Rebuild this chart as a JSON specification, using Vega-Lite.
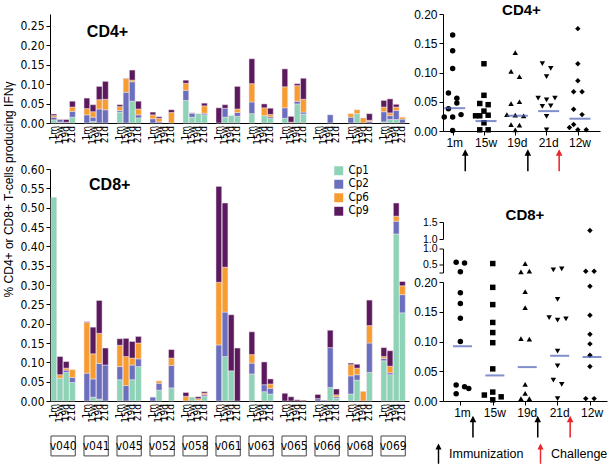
{
  "$schema": "https://vega.github.io/schema/vega-lite/v6.json",
  "padding": {"left": 2, "top": 3, "right": 0, "bottom": 0},
  "background": "white",
  "datasets": {
    "cd4": [
      {"s": "v040", "t": "1m", "Cp1": 0.008, "Cp2": 0.007, "Cp6": 0.004, "Cp9": 0.004},
      {"s": "v040", "t": "15w", "Cp1": 0.002, "Cp2": 0.007, "Cp6": 0, "Cp9": 0.001},
      {"s": "v040", "t": "19d", "Cp1": 0, "Cp2": 0.002, "Cp6": 0, "Cp9": 0.007},
      {"s": "v040", "t": "21d", "Cp1": 0.015, "Cp2": 0.015, "Cp6": 0.011, "Cp9": 0.015},
      {"s": "v041", "t": "1m", "Cp1": 0, "Cp2": 0.021, "Cp6": 0.016, "Cp9": 0.027},
      {"s": "v041", "t": "15w", "Cp1": 0.004, "Cp2": 0.011, "Cp6": 0.014, "Cp9": 0.018},
      {"s": "v041", "t": "19d", "Cp1": 0, "Cp2": 0.036, "Cp6": 0.024, "Cp9": 0.034},
      {"s": "v041", "t": "21d", "Cp1": 0, "Cp2": 0.034, "Cp6": 0.027, "Cp9": 0.046},
      {"s": "v045", "t": "1m", "Cp1": 0.028, "Cp2": 0.004, "Cp6": 0.010, "Cp9": 0.005},
      {"s": "v045", "t": "15w", "Cp1": 0, "Cp2": 0.079, "Cp6": 0.035, "Cp9": 0.001},
      {"s": "v045", "t": "19d", "Cp1": 0.056, "Cp2": 0.050, "Cp6": 0.004, "Cp9": 0.026},
      {"s": "v045", "t": "21d", "Cp1": 0.013, "Cp2": 0.008, "Cp6": 0.015, "Cp9": 0.020},
      {"s": "v052", "t": "1m", "Cp1": 0, "Cp2": 0.011, "Cp6": 0.010, "Cp9": 0.007},
      {"s": "v052", "t": "15w", "Cp1": 0, "Cp2": 0.003, "Cp6": 0.009, "Cp9": 0.004},
      {"s": "v052", "t": "19d", "Cp1": 0, "Cp2": 0, "Cp6": 0, "Cp9": 0},
      {"s": "v052", "t": "21d", "Cp1": 0, "Cp2": 0, "Cp6": 0.027, "Cp9": 0.007},
      {"s": "v058", "t": "1m", "Cp1": 0.058, "Cp2": 0.026, "Cp6": 0.018, "Cp9": 0.008},
      {"s": "v058", "t": "15w", "Cp1": 0.015, "Cp2": 0.010, "Cp6": 0, "Cp9": 0.001},
      {"s": "v058", "t": "19d", "Cp1": 0.024, "Cp2": 0, "Cp6": 0, "Cp9": 0},
      {"s": "v058", "t": "21d", "Cp1": 0.021, "Cp2": 0.004, "Cp6": 0.019, "Cp9": 0.007},
      {"s": "v061", "t": "1m", "Cp1": 0, "Cp2": 0, "Cp6": 0, "Cp9": 0.039},
      {"s": "v061", "t": "15w", "Cp1": 0.015, "Cp2": 0.023, "Cp6": 0, "Cp9": 0.009},
      {"s": "v061", "t": "19d", "Cp1": 0.019, "Cp2": 0, "Cp6": 0, "Cp9": 0},
      {"s": "v061", "t": "21d", "Cp1": 0.017, "Cp2": 0.010, "Cp6": 0.009, "Cp9": 0.058},
      {"s": "v063", "t": "1m", "Cp1": 0.024, "Cp2": 0.030, "Cp6": 0.047, "Cp9": 0.064},
      {"s": "v063", "t": "15w", "Cp1": 0, "Cp2": 0, "Cp6": 0, "Cp9": 0},
      {"s": "v063", "t": "19d", "Cp1": 0.019, "Cp2": 0, "Cp6": 0.020, "Cp9": 0.010},
      {"s": "v063", "t": "21d", "Cp1": 0.012, "Cp2": 0.004, "Cp6": 0.006, "Cp9": 0.016},
      {"s": "v065", "t": "1m", "Cp1": 0.012, "Cp2": 0.027, "Cp6": 0.054, "Cp9": 0.046},
      {"s": "v065", "t": "15w", "Cp1": 0, "Cp2": 0, "Cp6": 0.002, "Cp9": 0.015},
      {"s": "v065", "t": "19d", "Cp1": 0.049, "Cp2": 0.007, "Cp6": 0.040, "Cp9": 0.005},
      {"s": "v065", "t": "21d", "Cp1": 0.023, "Cp2": 0.005, "Cp6": 0.033, "Cp9": 0.054},
      {"s": "v066", "t": "1m", "Cp1": 0, "Cp2": 0, "Cp6": 0, "Cp9": 0},
      {"s": "v066", "t": "15w", "Cp1": 0, "Cp2": 0, "Cp6": 0, "Cp9": 0},
      {"s": "v066", "t": "19d", "Cp1": 0, "Cp2": 0.021, "Cp6": 0, "Cp9": 0},
      {"s": "v066", "t": "21d", "Cp1": 0, "Cp2": 0, "Cp6": 0, "Cp9": 0},
      {"s": "v068", "t": "1m", "Cp1": 0, "Cp2": 0.015, "Cp6": 0.009, "Cp9": 0},
      {"s": "v068", "t": "15w", "Cp1": 0.024, "Cp2": 0, "Cp6": 0.010, "Cp9": 0},
      {"s": "v068", "t": "19d", "Cp1": 0, "Cp2": 0, "Cp6": 0.013, "Cp9": 0},
      {"s": "v068", "t": "21d", "Cp1": 0, "Cp2": 0.004, "Cp6": 0.003, "Cp9": 0.017},
      {"s": "v069", "t": "1m", "Cp1": 0.003, "Cp2": 0.026, "Cp6": 0.012, "Cp9": 0.017},
      {"s": "v069", "t": "15w", "Cp1": 0.009, "Cp2": 0.010, "Cp6": 0.007, "Cp9": 0.036},
      {"s": "v069", "t": "19d", "Cp1": 0.009, "Cp2": 0.023, "Cp6": 0.009, "Cp9": 0.007},
      {"s": "v069", "t": "21d", "Cp1": 0, "Cp2": 0.010, "Cp6": 0.005, "Cp9": 0}
    ],
    "cd8": [
      {"s": "v040", "t": "1m", "Cp1": 0.527, "Cp2": 0, "Cp6": 0, "Cp9": 0},
      {"s": "v040", "t": "15w", "Cp1": 0.059, "Cp2": 0, "Cp6": 0.009, "Cp9": 0.047},
      {"s": "v040", "t": "19d", "Cp1": 0.074, "Cp2": 0.006, "Cp6": 0.005, "Cp9": 0.017},
      {"s": "v040", "t": "21d", "Cp1": 0.048, "Cp2": 0.013, "Cp6": 0.020, "Cp9": 0},
      {"s": "v041", "t": "1m", "Cp1": 0, "Cp2": 0.072, "Cp6": 0.131, "Cp9": 0.002},
      {"s": "v041", "t": "15w", "Cp1": 0.010, "Cp2": 0.047, "Cp6": 0.065, "Cp9": 0.069},
      {"s": "v041", "t": "19d", "Cp1": 0.005, "Cp2": 0.092, "Cp6": 0.078, "Cp9": 0.085},
      {"s": "v041", "t": "21d", "Cp1": 0, "Cp2": 0.093, "Cp6": 0, "Cp9": 0.044},
      {"s": "v045", "t": "1m", "Cp1": 0.055, "Cp2": 0.034, "Cp6": 0.055, "Cp9": 0.017},
      {"s": "v045", "t": "15w", "Cp1": 0, "Cp2": 0.040, "Cp6": 0.075, "Cp9": 0.047},
      {"s": "v045", "t": "19d", "Cp1": 0.055, "Cp2": 0.038, "Cp6": 0.018, "Cp9": 0.043},
      {"s": "v045", "t": "21d", "Cp1": 0.089, "Cp2": 0.020, "Cp6": 0.041, "Cp9": 0.017},
      {"s": "v052", "t": "1m", "Cp1": 0, "Cp2": 0.010, "Cp6": 0, "Cp9": 0},
      {"s": "v052", "t": "15w", "Cp1": 0.028, "Cp2": 0.018, "Cp6": 0.006, "Cp9": 0},
      {"s": "v052", "t": "19d", "Cp1": 0, "Cp2": 0, "Cp6": 0, "Cp9": 0},
      {"s": "v052", "t": "21d", "Cp1": 0.034, "Cp2": 0.058, "Cp6": 0.019, "Cp9": 0.022},
      {"s": "v058", "t": "1m", "Cp1": 0, "Cp2": 0, "Cp6": 0.012, "Cp9": 0.010},
      {"s": "v058", "t": "15w", "Cp1": 0.010, "Cp2": 0, "Cp6": 0, "Cp9": 0},
      {"s": "v058", "t": "19d", "Cp1": 0.002, "Cp2": 0, "Cp6": 0.004, "Cp9": 0.005},
      {"s": "v058", "t": "21d", "Cp1": 0.012, "Cp2": 0.004, "Cp6": 0.004, "Cp9": 0.004},
      {"s": "v061", "t": "1m", "Cp1": 0, "Cp2": 0.145, "Cp6": 0.162, "Cp9": 0.248},
      {"s": "v061", "t": "15w", "Cp1": 0.115, "Cp2": 0.115, "Cp6": 0.116, "Cp9": 0.166},
      {"s": "v061", "t": "19d", "Cp1": 0.078, "Cp2": 0, "Cp6": 0, "Cp9": 0.145},
      {"s": "v061", "t": "21d", "Cp1": 0, "Cp2": 0, "Cp6": 0, "Cp9": 0.137},
      {"s": "v063", "t": "1m", "Cp1": 0.070, "Cp2": 0.028, "Cp6": 0.022, "Cp9": 0.059},
      {"s": "v063", "t": "15w", "Cp1": 0, "Cp2": 0, "Cp6": 0, "Cp9": 0},
      {"s": "v063", "t": "19d", "Cp1": 0.024, "Cp2": 0.018, "Cp6": 0, "Cp9": 0.059},
      {"s": "v063", "t": "21d", "Cp1": 0.018, "Cp2": 0.015, "Cp6": 0.011, "Cp9": 0.013},
      {"s": "v065", "t": "1m", "Cp1": 0, "Cp2": 0, "Cp6": 0, "Cp9": 0.020},
      {"s": "v065", "t": "15w", "Cp1": 0, "Cp2": 0, "Cp6": 0, "Cp9": 0.011},
      {"s": "v065", "t": "19d", "Cp1": 0, "Cp2": 0, "Cp6": 0, "Cp9": 0.003},
      {"s": "v065", "t": "21d", "Cp1": 0, "Cp2": 0, "Cp6": 0, "Cp9": 0.002},
      {"s": "v066", "t": "1m", "Cp1": 0, "Cp2": 0.006, "Cp6": 0, "Cp9": 0.011},
      {"s": "v066", "t": "15w", "Cp1": 0, "Cp2": 0.002, "Cp6": 0, "Cp9": 0},
      {"s": "v066", "t": "19d", "Cp1": 0.035, "Cp2": 0.103, "Cp6": 0, "Cp9": 0.045},
      {"s": "v066", "t": "21d", "Cp1": 0.007, "Cp2": 0.004, "Cp6": 0.005, "Cp9": 0.015},
      {"s": "v068", "t": "1m", "Cp1": 0.018, "Cp2": 0.047, "Cp6": 0.029, "Cp9": 0.004},
      {"s": "v068", "t": "15w", "Cp1": 0.054, "Cp2": 0.014, "Cp6": 0.017, "Cp9": 0.010},
      {"s": "v068", "t": "19d", "Cp1": 0, "Cp2": 0, "Cp6": 0.025, "Cp9": 0},
      {"s": "v068", "t": "21d", "Cp1": 0.074, "Cp2": 0.076, "Cp6": 0.045, "Cp9": 0.066},
      {"s": "v069", "t": "1m", "Cp1": 0.104, "Cp2": 0.006, "Cp6": 0.005, "Cp9": 0.023},
      {"s": "v069", "t": "15w", "Cp1": 0.068, "Cp2": 0.005, "Cp6": 0.017, "Cp9": 0.040},
      {"s": "v069", "t": "19d", "Cp1": 0.432, "Cp2": 0.033, "Cp6": 0.013, "Cp9": 0.034},
      {"s": "v069", "t": "21d", "Cp1": 0.228, "Cp2": 0.047, "Cp6": 0.023, "Cp9": 0.011}
    ],
    "dots": [
      {"p": "CD4", "t": "1m", "v": 0.164, "o": "C"},
      {"p": "CD4", "t": "1m", "v": 0.137, "o": "C"},
      {"p": "CD4", "t": "1m", "v": 0.107, "o": "C"},
      {"p": "CD4", "t": "1m", "v": 0.065, "o": "L"},
      {"p": "CD4", "t": "1m", "v": 0.056, "o": "R"},
      {"p": "CD4", "t": "1m", "v": 0.048, "o": "R"},
      {"p": "CD4", "t": "1m", "v": 0.038, "o": "L"},
      {"p": "CD4", "t": "1m", "v": 0.024, "o": "LL"},
      {"p": "CD4", "t": "1m", "v": 0.024, "o": "C"},
      {"p": "CD4", "t": "1m", "v": 0.028, "o": "RR"},
      {"p": "CD4", "t": "1m", "v": 0.001, "o": "C"},
      {"p": "CD4", "t": "15w", "v": 0.115, "o": "C"},
      {"p": "CD4", "t": "15w", "v": 0.061, "o": "C"},
      {"p": "CD4", "t": "15w", "v": 0.047, "o": "L"},
      {"p": "CD4", "t": "15w", "v": 0.045, "o": "R"},
      {"p": "CD4", "t": "15w", "v": 0.034, "o": "C"},
      {"p": "CD4", "t": "15w", "v": 0.026, "o": "LL"},
      {"p": "CD4", "t": "15w", "v": 0.026, "o": "L"},
      {"p": "CD4", "t": "15w", "v": 0.027, "o": "R"},
      {"p": "CD4", "t": "15w", "v": 0.014, "o": "C"},
      {"p": "CD4", "t": "15w", "v": 0.002, "o": "L"},
      {"p": "CD4", "t": "15w", "v": 0.002, "o": "R"},
      {"p": "CD4", "t": "19d", "v": 0.134, "o": "C"},
      {"p": "CD4", "t": "19d", "v": 0.102, "o": "L"},
      {"p": "CD4", "t": "19d", "v": 0.093, "o": "R"},
      {"p": "CD4", "t": "19d", "v": 0.050, "o": "R"},
      {"p": "CD4", "t": "19d", "v": 0.047, "o": "L"},
      {"p": "CD4", "t": "19d", "v": 0.028, "o": "LL"},
      {"p": "CD4", "t": "19d", "v": 0.027, "o": "C"},
      {"p": "CD4", "t": "19d", "v": 0.026, "o": "RR"},
      {"p": "CD4", "t": "19d", "v": 0.011, "o": "L"},
      {"p": "CD4", "t": "19d", "v": 0.010, "o": "R"},
      {"p": "CD4", "t": "19d", "v": 0.002, "o": "C"},
      {"p": "CD4", "t": "21d", "v": 0.115, "o": "L"},
      {"p": "CD4", "t": "21d", "v": 0.107, "o": "R"},
      {"p": "CD4", "t": "21d", "v": 0.093, "o": "C"},
      {"p": "CD4", "t": "21d", "v": 0.056, "o": "LL"},
      {"p": "CD4", "t": "21d", "v": 0.053, "o": "C"},
      {"p": "CD4", "t": "21d", "v": 0.056, "o": "RR"},
      {"p": "CD4", "t": "21d", "v": 0.043, "o": "R"},
      {"p": "CD4", "t": "21d", "v": 0.042, "o": "L"},
      {"p": "CD4", "t": "21d", "v": 0.025, "o": "C"},
      {"p": "CD4", "t": "21d", "v": 0.002, "o": "C"},
      {"p": "CD4", "t": "12w", "v": 0.175, "o": "C"},
      {"p": "CD4", "t": "12w", "v": 0.115, "o": "C"},
      {"p": "CD4", "t": "12w", "v": 0.086, "o": "C"},
      {"p": "CD4", "t": "12w", "v": 0.067, "o": "L"},
      {"p": "CD4", "t": "12w", "v": 0.067, "o": "R"},
      {"p": "CD4", "t": "12w", "v": 0.037, "o": "L"},
      {"p": "CD4", "t": "12w", "v": 0.028, "o": "R"},
      {"p": "CD4", "t": "12w", "v": 0.011, "o": "L"},
      {"p": "CD4", "t": "12w", "v": 0.006, "o": "LL"},
      {"p": "CD4", "t": "12w", "v": 0.002, "o": "C"},
      {"p": "CD4", "t": "12w", "v": 0.002, "o": "RR"},
      {"p": "CD8", "t": "1m", "v": 0.57, "o": "L"},
      {"p": "CD8", "t": "1m", "v": 0.55, "o": "R"},
      {"p": "CD8", "t": "1m", "v": 0.27, "o": "C"},
      {"p": "CD8", "t": "1m", "v": 0.182, "o": "C"},
      {"p": "CD8", "t": "1m", "v": 0.164, "o": "C"},
      {"p": "CD8", "t": "1m", "v": 0.139, "o": "C"},
      {"p": "CD8", "t": "1m", "v": 0.100, "o": "C"},
      {"p": "CD8", "t": "1m", "v": 0.027, "o": "L"},
      {"p": "CD8", "t": "1m", "v": 0.024, "o": "R"},
      {"p": "CD8", "t": "1m", "v": 0.021, "o": "RR"},
      {"p": "CD8", "t": "1m", "v": 0.012, "o": "L"},
      {"p": "CD8", "t": "15w", "v": 0.53, "o": "C"},
      {"p": "CD8", "t": "15w", "v": 0.191, "o": "C"},
      {"p": "CD8", "t": "15w", "v": 0.162, "o": "C"},
      {"p": "CD8", "t": "15w", "v": 0.132, "o": "C"},
      {"p": "CD8", "t": "15w", "v": 0.115, "o": "C"},
      {"p": "CD8", "t": "15w", "v": 0.098, "o": "C"},
      {"p": "CD8", "t": "15w", "v": 0.054, "o": "C"},
      {"p": "CD8", "t": "15w", "v": 0.015, "o": "C"},
      {"p": "CD8", "t": "15w", "v": 0.010, "o": "LL"},
      {"p": "CD8", "t": "15w", "v": 0.007, "o": "RR"},
      {"p": "CD8", "t": "15w", "v": 0.002, "o": "C"},
      {"p": "CD8", "t": "19d", "v": 0.53, "o": "C"},
      {"p": "CD8", "t": "19d", "v": 0.27, "o": "L"},
      {"p": "CD8", "t": "19d", "v": 0.29, "o": "R"},
      {"p": "CD8", "t": "19d", "v": 0.184, "o": "C"},
      {"p": "CD8", "t": "19d", "v": 0.157, "o": "C"},
      {"p": "CD8", "t": "19d", "v": 0.105, "o": "L"},
      {"p": "CD8", "t": "19d", "v": 0.104, "o": "R"},
      {"p": "CD8", "t": "19d", "v": 0.028, "o": "C"},
      {"p": "CD8", "t": "19d", "v": 0.013, "o": "C"},
      {"p": "CD8", "t": "19d", "v": 0.004, "o": "L"},
      {"p": "CD8", "t": "19d", "v": 0.004, "o": "R"},
      {"p": "CD8", "t": "21d", "v": 0.33, "o": "L"},
      {"p": "CD8", "t": "21d", "v": 0.36, "o": "R"},
      {"p": "CD8", "t": "21d", "v": 0.171, "o": "C"},
      {"p": "CD8", "t": "21d", "v": 0.140, "o": "LL"},
      {"p": "CD8", "t": "21d", "v": 0.136, "o": "C"},
      {"p": "CD8", "t": "21d", "v": 0.138, "o": "RR"},
      {"p": "CD8", "t": "21d", "v": 0.084, "o": "C"},
      {"p": "CD8", "t": "21d", "v": 0.059, "o": "C"},
      {"p": "CD8", "t": "21d", "v": 0.035, "o": "L"},
      {"p": "CD8", "t": "21d", "v": 0.028, "o": "R"},
      {"p": "CD8", "t": "21d", "v": 0.004, "o": "C"},
      {"p": "CD8", "t": "12w", "v": 1.25, "o": "C"},
      {"p": "CD8", "t": "12w", "v": 0.29, "o": "L"},
      {"p": "CD8", "t": "12w", "v": 0.29, "o": "R"},
      {"p": "CD8", "t": "12w", "v": 0.193, "o": "C"},
      {"p": "CD8", "t": "12w", "v": 0.144, "o": "C"},
      {"p": "CD8", "t": "12w", "v": 0.112, "o": "C"},
      {"p": "CD8", "t": "12w", "v": 0.096, "o": "C"},
      {"p": "CD8", "t": "12w", "v": 0.077, "o": "C"},
      {"p": "CD8", "t": "12w", "v": 0.058, "o": "C"},
      {"p": "CD8", "t": "12w", "v": 0.004, "o": "L"},
      {"p": "CD8", "t": "12w", "v": 0.004, "o": "R"}
    ],
    "med": [
      {"p": "CD4", "t": "1m", "m": 0.039},
      {"p": "CD4", "t": "15w", "m": 0.017},
      {"p": "CD4", "t": "19d", "m": 0.026},
      {"p": "CD4", "t": "21d", "m": 0.034},
      {"p": "CD4", "t": "12w", "m": 0.021},
      {"p": "CD8", "t": "1m", "m": 0.092},
      {"p": "CD8", "t": "15w", "m": 0.043},
      {"p": "CD8", "t": "19d", "m": 0.057},
      {"p": "CD8", "t": "21d", "m": 0.076},
      {"p": "CD8", "t": "12w", "m": 0.074}
    ],
    "arr": [
      {"p": "CD4", "t": "1m", "kind": "Immunization"},
      {"p": "CD4", "t": "19d", "kind": "Immunization"},
      {"p": "CD4", "t": "21d", "kind": "Challenge"},
      {"p": "CD8", "t": "1m", "kind": "Immunization"},
      {"p": "CD8", "t": "19d", "kind": "Immunization"},
      {"p": "CD8", "t": "21d", "kind": "Challenge"}
    ]
  },
  "hconcat": [
    {
      "vconcat": [
        {
          "width": 359,
          "height": 109,
          "layer": [
            {
              "data": {"name": "cd4"},
              "transform": [{"fold": ["Cp1", "Cp2", "Cp6", "Cp9"], "as": ["cp", "v"]}, {"filter": "datum.v > 0"}],
              "mark": {"type": "bar", "stroke": "#f2e4ec", "strokeWidth": 0.5},
              "encoding": {
                "x": {
                  "field": "s", "type": "nominal", "sort": null,
                  "scale": {"domain": ["v040", "v041", "v045", "v052", "v058", "v061", "v063", "v065", "v066", "v068", "v069"], "paddingInner": 0.264, "paddingOuter": 0.0715, "align": 0.21},
                  "axis": {"title": null, "labels": false, "ticks": false, "domain": true}
                },
                "xOffset": {"field": "t", "type": "nominal", "sort": null, "scale": {"domain": ["1m", "15w", "19d", "21d"], "paddingInner": 0.07, "paddingOuter": 0}},
                "y": {
                  "field": "v", "type": "quantitative", "stack": "zero",
                  "scale": {"domain": [0, 0.28], "nice": false},
                  "axis": {"values": [0, 0.05, 0.1, 0.15, 0.2, 0.25], "tickCount": 30, "format": ".2f", "title": null, "labelOverlap": false, "labelFont": "Liberation Sans Narrow, DejaVu Sans Condensed, sans-serif", "labelFontSize": 12}
                },
                "color": {"field": "cp", "type": "nominal", "scale": {"domain": ["Cp1", "Cp2", "Cp6", "Cp9"], "range": ["#8dd3b7", "#6a6fbe", "#f79c30", "#5a1a5d"]}, "legend": null},
                "order": {"field": "cp", "sort": "ascending"}
              }
            },
            {
              "data": {"name": "cd4"},
              "mark": {"type": "text", "angle": 270, "align": "right", "baseline": "middle", "dx": -3, "fontSize": 10, "font": "Liberation Sans Narrow, DejaVu Sans Condensed, sans-serif"},
              "encoding": {
                "x": {"field": "s", "type": "nominal", "sort": null},
                "xOffset": {"field": "t", "type": "nominal", "sort": null},
                "y": {"datum": 0},
                "text": {"field": "t"}
              }
            },
            {
              "data": {"values": [{"label": "CD4+"}]},
              "mark": {"type": "text", "align": "left", "baseline": "alphabetic", "fontSize": 16, "fontWeight": "bold"},
              "encoding": {
                "x": {"datum": "v041", "type": "nominal"},
                "xOffset": {"datum": "1m", "type": "nominal"},
                "y": {"datum": 0.222},
                "text": {"field": "label"}
              }
            }
          ]
        },
        {
          "width": 359,
          "height": 232,
          "layer": [
            {
              "data": {"name": "cd8"},
              "transform": [{"fold": ["Cp1", "Cp2", "Cp6", "Cp9"], "as": ["cp", "v"]}, {"filter": "datum.v > 0"}],
              "mark": {"type": "bar", "stroke": "#f2e4ec", "strokeWidth": 0.5},
              "encoding": {
                "x": {
                  "field": "s", "type": "nominal", "sort": null,
                  "scale": {"domain": ["v040", "v041", "v045", "v052", "v058", "v061", "v063", "v065", "v066", "v068", "v069"], "paddingInner": 0.264, "paddingOuter": 0.0715, "align": 0.21},
                  "axis": {"title": null, "labels": false, "ticks": false, "domain": true}
                },
                "xOffset": {"field": "t", "type": "nominal", "sort": null, "scale": {"domain": ["1m", "15w", "19d", "21d"], "paddingInner": 0.07, "paddingOuter": 0}},
                "y": {
                  "field": "v", "type": "quantitative", "stack": "zero",
                  "scale": {"domain": [0, 0.6], "nice": false},
                  "axis": {"values": [0, 0.05, 0.1, 0.15, 0.2, 0.25, 0.3, 0.35, 0.4, 0.45, 0.5, 0.55, 0.6], "tickCount": 30, "format": ".2f", "labelOverlap": false, "title": "% CD4+ or CD8+ T-cells producing IFNγ", "titleFontSize": 12, "titleFontWeight": "normal", "titleY": 20, "labelFont": "Liberation Sans Narrow, DejaVu Sans Condensed, sans-serif", "labelFontSize": 12}
                },
                "color": {
                  "field": "cp", "type": "nominal",
                  "scale": {"domain": ["Cp1", "Cp2", "Cp6", "Cp9"], "range": ["#8dd3b7", "#6a6fbe", "#f79c30", "#5a1a5d"]},
                  "legend": {"orient": "none", "legendX": 283, "legendY": -4, "title": null, "symbolType": "square", "symbolSize": 80, "symbolStrokeWidth": 0, "labelFontSize": 11.5, "labelFont": "Liberation Sans Narrow, DejaVu Sans Condensed, sans-serif", "rowPadding": 0.5, "labelOffset": 4}
                },
                "order": {"field": "cp", "sort": "ascending"}
              }
            },
            {
              "data": {"name": "cd8"},
              "mark": {"type": "text", "angle": 270, "align": "right", "baseline": "middle", "dx": -3, "fontSize": 10, "font": "Liberation Sans Narrow, DejaVu Sans Condensed, sans-serif"},
              "encoding": {
                "x": {"field": "s", "type": "nominal", "sort": null},
                "xOffset": {"field": "t", "type": "nominal", "sort": null},
                "y": {"datum": 0},
                "text": {"field": "t"}
              }
            },
            {
              "data": {"name": "cd8"},
              "transform": [{"filter": "datum.t === '1m'"}],
              "mark": {"type": "rect", "fill": "white", "stroke": "#444444", "strokeWidth": 1},
              "encoding": {
                "x": {"field": "s", "type": "nominal", "sort": null},
                "y": {"datum": -0.0905},
                "y2": {"datum": -0.142}
              }
            },
            {
              "data": {"name": "cd8"},
              "transform": [{"filter": "datum.t === '1m'"}],
              "mark": {"type": "text", "fontSize": 12, "font": "Liberation Sans Narrow, DejaVu Sans Condensed, sans-serif"},
              "encoding": {
                "x": {"field": "s", "type": "nominal", "sort": null},
                "y": {"datum": -0.116},
                "text": {"field": "s"}
              }
            },
            {
              "data": {"values": [{"label": "CD8+"}]},
              "mark": {"type": "text", "align": "left", "baseline": "alphabetic", "dx": -4, "fontSize": 16, "fontWeight": "bold"},
              "encoding": {
                "x": {"datum": "v041", "type": "nominal"},
                "xOffset": {"datum": "15w", "type": "nominal"},
                "y": {"datum": 0.546},
                "text": {"field": "label"}
              }
            }
          ]
        }
      ],
      "spacing": 46,
      "bounds": "flush",
      "resolve": {"scale": {"color": "independent", "xOffset": "independent"}}
    },
    {
      "vconcat": [
        {
          "width": 157,
          "height": 117,
          "title": {"text": "CD4+", "fontSize": 15, "fontWeight": "bold", "offset": -10},
          "layer": [
            {
              "data": {"name": "dots"},
              "transform": [{"filter": "datum.p === 'CD4'"}],
              "mark": {"type": "point", "filled": true, "opacity": 1, "color": "#000000", "size": 30},
              "encoding": {
                "x": {
                  "field": "t", "type": "nominal", "sort": null,
                  "scale": {"type": "band", "domain": ["1m", "15w", "19d", "21d", "12w"], "paddingInner": 0.329, "paddingOuter": 0.1725, "align": 0.116},
                  "axis": {"title": null, "labelAngle": 0, "bandPosition": 0.417, "labelFontSize": 12}
                },
                "xOffset": {"field": "o", "type": "nominal", "scale": {"domain": ["LL", "L", "C", "R", "RR", "A"], "paddingInner": 0, "paddingOuter": 0}},
                "y": {"field": "v", "type": "quantitative", "scale": {"domain": [0, 0.2], "nice": false}, "axis": {"values": [0, 0.05, 0.1, 0.15, 0.2], "tickCount": 30, "format": ".2f", "labelOverlap": false, "title": null}},
                "shape": {"field": "t", "type": "nominal", "scale": {"domain": ["1m", "15w", "19d", "21d", "12w"], "range": ["circle", "square", "triangle-up", "triangle-down", "diamond"]}, "legend": null}
              }
            },
            {
              "data": {"name": "med"},
              "transform": [{"filter": "datum.p === 'CD4'"}],
              "mark": {"type": "tick", "color": "#4b5fb5", "thickness": 2, "size": 21},
              "encoding": {
                "x": {"field": "t", "type": "nominal"},
                "y": {"field": "m", "type": "quantitative"}
              }
            },
            {
              "data": {"name": "arr"},
              "transform": [{"filter": "datum.p === 'CD4'"}],
              "mark": {"type": "point", "filled": true, "opacity": 1, "size": 480, "shape": "M-0.07,1L0.07,1L0.07,-0.4L0.3,-0.4L0,-1L-0.3,-0.4L-0.07,-0.4Z"},
              "encoding": {
                "x": {"field": "t", "type": "nominal"},
                "xOffset": {"datum": "A", "type": "nominal"},
                "y": {"datum": -0.05},
                "color": {"field": "kind", "type": "nominal", "scale": {"domain": ["Immunization", "Challenge"], "range": ["#000000", "#e8262b"]}, "legend": null}
              }
            }
          ]
        },
        {
          "vconcat": [
            {
              "width": 164,
              "height": 17,
              "title": {"text": "CD8+", "fontSize": 15, "fontWeight": "bold", "offset": -6},
              "data": {"name": "dots"},
              "transform": [{"filter": "datum.p === 'CD8' && datum.v >= 1"}],
              "mark": {"type": "point", "filled": true, "opacity": 1, "color": "#000000", "size": 30},
              "encoding": {
                "x": {
                  "field": "t", "type": "nominal", "sort": null,
                  "scale": {"type": "band", "domain": ["1m", "15w", "19d", "21d", "12w"], "paddingInner": 0.352, "paddingOuter": 0.207, "align": 0.668},
                  "axis": null
                },
                "xOffset": {"field": "o", "type": "nominal", "scale": {"domain": ["LL", "L", "C", "R", "RR", "A"], "paddingInner": 0, "paddingOuter": 0}},
                "y": {"field": "v", "type": "quantitative", "scale": {"domain": [1, 1.5], "nice": false, "zero": false}, "axis": {"values": [1, 1.5], "tickCount": 30, "format": ".1f", "labelOverlap": false, "labelFontSize": 10.5, "title": null}},
                "shape": {"field": "t", "type": "nominal", "scale": {"domain": ["1m", "15w", "19d", "21d", "12w"], "range": ["circle", "square", "triangle-up", "triangle-down", "diamond"]}, "legend": null}
              }
            },
            {
              "width": 164,
              "height": 24,
              "data": {"name": "dots"},
              "transform": [{"filter": "datum.p === 'CD8' && datum.v > 0.22 && datum.v < 1"}],
              "mark": {"type": "point", "filled": true, "opacity": 1, "color": "#000000", "size": 30},
              "encoding": {
                "x": {
                  "field": "t", "type": "nominal", "sort": null,
                  "scale": {"type": "band", "domain": ["1m", "15w", "19d", "21d", "12w"], "paddingInner": 0.352, "paddingOuter": 0.207, "align": 0.668},
                  "axis": null
                },
                "xOffset": {"field": "o", "type": "nominal", "scale": {"domain": ["LL", "L", "C", "R", "RR", "A"], "paddingInner": 0, "paddingOuter": 0}},
                "y": {"field": "v", "type": "quantitative", "scale": {"domain": [0.25, 1], "nice": false, "zero": false}, "axis": {"values": [0.25, 0.5, 1], "tickCount": 30, "format": ".1f", "labelOverlap": false, "labelFontSize": 10.5, "labelExpr": "datum.value < 0.3 ? '' : datum.label", "title": null}},
                "shape": {"field": "t", "type": "nominal", "scale": {"domain": ["1m", "15w", "19d", "21d", "12w"], "range": ["circle", "square", "triangle-up", "triangle-down", "diamond"]}, "legend": null}
              }
            },
            {
              "width": 164,
              "height": 119,
              "layer": [
                {
                  "data": {"name": "dots"},
                  "transform": [{"filter": "datum.p === 'CD8' && datum.v <= 0.22"}],
                  "mark": {"type": "point", "filled": true, "opacity": 1, "color": "#000000", "size": 30},
                  "encoding": {
                    "x": {
                      "field": "t", "type": "nominal", "sort": null,
                      "scale": {"type": "band", "domain": ["1m", "15w", "19d", "21d", "12w"], "paddingInner": 0.352, "paddingOuter": 0.207, "align": 0.668},
                      "axis": {"title": null, "labelAngle": 0, "bandPosition": 0.417, "labelFontSize": 12}
                    },
                    "xOffset": {"field": "o", "type": "nominal", "scale": {"domain": ["LL", "L", "C", "R", "RR", "A"], "paddingInner": 0, "paddingOuter": 0}},
                    "y": {"field": "v", "type": "quantitative", "scale": {"domain": [0, 0.2], "nice": false}, "axis": {"values": [0, 0.05, 0.1, 0.15, 0.2], "tickCount": 30, "format": ".2f", "labelOverlap": false, "title": null}},
                    "shape": {"field": "t", "type": "nominal", "scale": {"domain": ["1m", "15w", "19d", "21d", "12w"], "range": ["circle", "square", "triangle-up", "triangle-down", "diamond"]}, "legend": null}
                  }
                },
                {
                  "data": {"name": "med"},
                  "transform": [{"filter": "datum.p === 'CD8'"}],
                  "mark": {"type": "tick", "color": "#4b5fb5", "thickness": 2, "size": 19},
                  "encoding": {
                    "x": {"field": "t", "type": "nominal"},
                    "y": {"field": "m", "type": "quantitative"}
                  }
                },
                {
                  "data": {"name": "arr"},
                  "transform": [{"filter": "datum.p === 'CD8'"}],
                  "mark": {"type": "point", "filled": true, "opacity": 1, "size": 480, "shape": "M-0.07,1L0.07,1L0.07,-0.4L0.3,-0.4L0,-1L-0.3,-0.4L-0.07,-0.4Z"},
                  "encoding": {
                    "x": {"field": "t", "type": "nominal"},
                    "xOffset": {"datum": "A", "type": "nominal"},
                    "y": {"datum": -0.043},
                    "color": {
                      "field": "kind", "type": "nominal",
                      "scale": {"domain": ["Immunization", "Challenge"], "range": ["#000000", "#e8262b"]},
                      "legend": {"orient": "none", "legendX": -15, "legendY": 161, "title": null, "direction": "horizontal", "symbolType": "M-0.07,1L0.07,1L0.07,-0.4L0.3,-0.4L0,-1L-0.3,-0.4L-0.07,-0.4Z", "symbolSize": 420, "symbolStrokeWidth": 0, "labelFontSize": 12.5, "labelOffset": 0, "columnPadding": 6}
                    }
                  }
                }
              ]
            }
          ],
          "spacing": 9.5,
          "bounds": "flush",
          "resolve": {"scale": {"color": "independent", "xOffset": "independent"}}
        }
      ],
      "spacing": 91,
      "bounds": "flush",
      "resolve": {"scale": {"color": "independent", "xOffset": "independent"}}
    }
  ],
  "spacing": 4,
  "resolve": {"scale": {"color": "independent", "xOffset": "independent", "shape": "independent"}},
  "config": {
    "font": "Liberation Sans",
    "view": {"stroke": null},
    "axis": {"grid": false, "labelOverlap": false, "domainColor": "#000000", "tickColor": "#000000", "labelColor": "#000000", "titleColor": "#000000", "labelFont": "Liberation Sans", "titleFont": "Liberation Sans", "labelFontSize": 12, "tickSize": 4, "labelPadding": 2},
    "title": {"color": "#000000", "font": "Liberation Sans"},
    "legend": {"labelColor": "#000000", "labelFont": "Liberation Sans"}
  }
}
